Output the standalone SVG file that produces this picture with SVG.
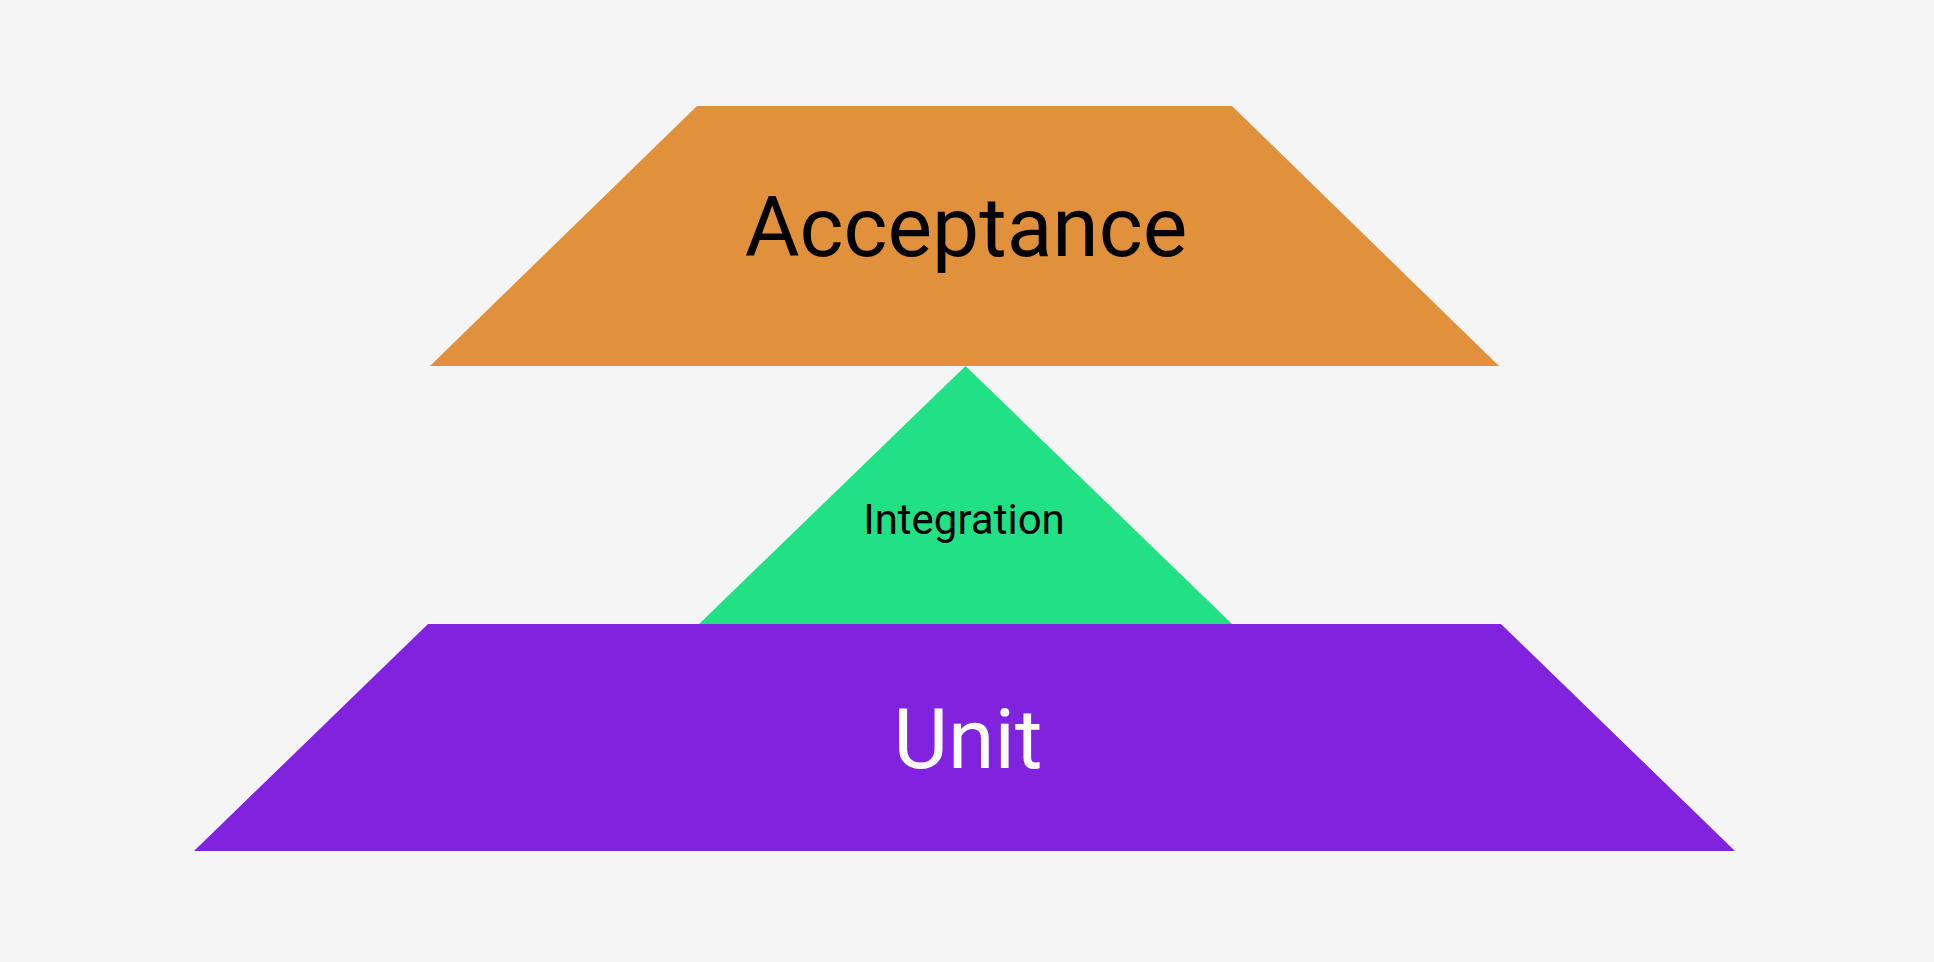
<svg xmlns="http://www.w3.org/2000/svg" width="1934" height="962" viewBox="0 0 1934 962">
<style>
.lbl{font-family:Roboto,"Liberation Sans",sans-serif;text-anchor:middle}
</style>
<rect width="1934" height="962" fill="#f5f5f5"/>
<g id="acceptance">
<polygon points="697,106 1232,106 1499,366 430,366" fill="#e1903c"/>
<text class="lbl" x="966" y="256" font-size="84" fill="#000">Acceptance</text>
</g>
<g id="integration">
<polygon points="965.5,366 1232,624 699,624" fill="#22e184"/>
<text class="lbl" x="964" y="534" font-size="42" fill="#000">Integration</text>
</g>
<g id="unit">
<polygon points="428,624 1501,624 1735,851 194,851" fill="#8022de"/>
<text class="lbl" x="968" y="768" font-size="84" fill="#fff">Unit</text>
</g>
<g id="connectors"></g>
</svg>
